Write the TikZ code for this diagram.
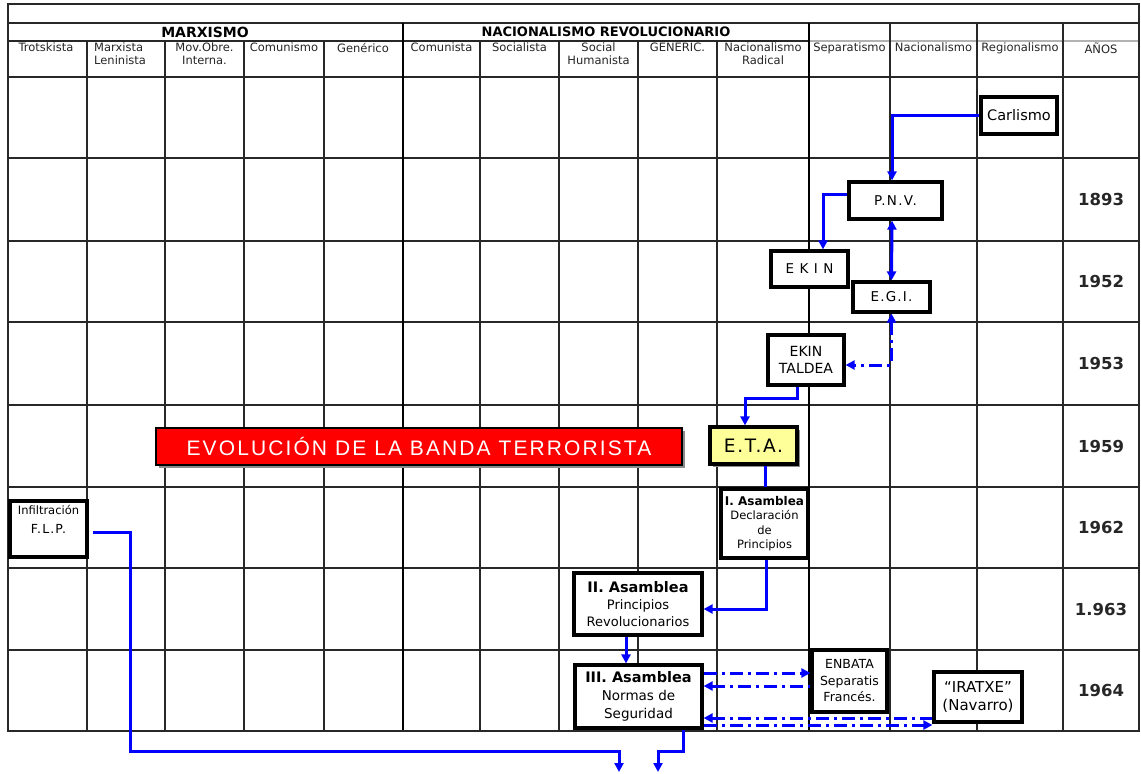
\documentclass[tikz,border=0pt]{standalone}
\usepackage{fontspec}
\setmainfont{DejaVu Sans}
\newfontfamily\bannerfont[LetterSpace=10]{Liberation Sans}
\newfontfamily\spacedfont[LetterSpace=9]{DejaVu Sans}
\usetikzlibrary{arrows.meta,shadows}
\definecolor{etay}{RGB}{255,255,153}
\definecolor{gridc}{RGB}{40,40,40}
\begin{document}
\begin{tikzpicture}[x=1pt,y=-1pt,
  >={Triangle[length=9pt,width=9pt]},
  gridline/.style={draw=gridc,line width=1.5pt},
  thickline/.style={draw=black,line width=2.6pt},
  hdr/.style={anchor=north,align=center,inner sep=0pt,text=black!85,font=\fontsize{11.5}{13}\selectfont},
  grp/.style={inner sep=0pt,font=\bfseries},
  yr/.style={inner sep=0pt,font=\bfseries\fontsize{16.5}{18}\selectfont,text=black!85},
  box/.style={draw=black,line width=3.2pt,fill=white,align=center,inner sep=0pt,font=\fontsize{13}{16}\selectfont},
  conn/.style={draw=blue,line width=3pt},
  dd/.style={conn,dash pattern=on 13pt off 5pt on 3pt off 5pt},
  shad/.style={drop shadow={shadow xshift=3pt,shadow yshift=-3pt,fill=black!45,opacity=1}}
]
\useasboundingbox (0,0) rectangle (1141,774);
\fill[white] (0,0) rectangle (1141,774);

% ---------- grid ----------
\foreach \y in {77,158,241,322,405,487,568,650}
  \draw[gridline] (8,\y) -- (1139,\y);
\draw[gridline] (8,23) -- (1139,23);
\draw[gridline] (8,41) -- (809,41);
\draw[gridline,draw=black!30] (809,41) -- (1139,41);
\foreach \x in {87,165,244,324,480,559,638,717}
  \draw[gridline] (\x,41) -- (\x,731);
\foreach \x in {890,977,1063}
  \draw[gridline] (\x,23) -- (\x,731);
\draw[thickline] (403,23) -- (403,731);
\draw[thickline] (809,23) -- (809,731);
\draw[gridline] (8,4) rectangle (1139,731);

% ---------- group headers ----------
\node[grp,font=\bfseries\fontsize{14}{16}\selectfont] (gmarx) at (205,32) {MARXISMO};
\node[grp,font=\bfseries\fontsize{13}{16}\selectfont] (gnac) at (606,32) {NACIONALISMO REVOLUCIONARIO};

% ---------- column headers ----------
\node[hdr] (c1) at (46,43) {Trotskista};
\node[hdr,anchor=north west,align=left] (c2) at (94,43) {Marxista\\Leninista};
\node[hdr] (c3) at (204.5,43) {Mov.Obre.\\Interna.};
\node[hdr] (c4) at (284,43) {Comunismo};
\node[hdr] (c5) at (363,43) {Genérico};
\node[hdr] (c6) at (441.5,43) {Comunista};
\node[hdr] (c7) at (519.5,43) {Socialista};
\node[hdr] (c8) at (598.5,43) {Social\\Humanista};
\node[hdr] (c9) at (677.5,43) {GENERIC.};
\node[hdr] (c10) at (763,43) {Nacionalismo\\Radical};
\node[hdr] (c11) at (849.5,43) {Separatismo};
\node[hdr] (c12) at (933.5,43) {Nacionalismo};
\node[hdr] (c13) at (1020,43) {Regionalismo};
\node[hdr] (c14) at (1101,43) {AÑOS};

% ---------- years ----------
\node[yr] (y1) at (1101,199.5) {1893};
\node[yr] (y2) at (1101,281.5) {1952};
\node[yr] (y3) at (1101,363.5) {1953};
\node[yr] (y4) at (1101,446) {1959};
\node[yr] (y5) at (1101,527.5) {1962};
\node[yr] (y6) at (1101,609) {1.963};
\node[yr] (y7) at (1101,690.5) {1964};

% ---------- banner ----------
\node[draw=black,line width=2pt,fill=red,shad,minimum width=526pt,minimum height=37pt,inner sep=0pt,
      text=white,font=\bannerfont\fontsize{21}{24}\selectfont] (banner) at (419,446.5)
      {EVOLUCIÓN DE LA BANDA TERRORISTA};

% ---------- boxes ----------
\node[box,minimum width=76pt,minimum height=37pt,font=\fontsize{14.5}{16}\selectfont] (carl) at (1019,115.5) {Carlismo};
\node[box,minimum width=93pt,minimum height=37pt,font=\spacedfont\fontsize{13.5}{16}\selectfont] (pnv) at (895.5,200.5) {P.N.V.};
\node[box,minimum width=77pt,minimum height=36pt,font=\spacedfont\fontsize{13.5}{16}\selectfont] (ekin) at (809.5,269) {E K I N};
\node[box,minimum width=77pt,minimum height=30pt,font=\spacedfont\fontsize{13.5}{16}\selectfont] (egi) at (891.5,297) {E.G.I.};
\node[box,minimum width=76pt,minimum height=50pt,font=\fontsize{14}{17}\selectfont] (taldea) at (806,360) {EKIN\\TALDEA};
\node[box,fill=etay,shad,minimum width=87pt,minimum height=37pt,font=\spacedfont\fontsize{18.5}{22}\selectfont] (eta) at (753.5,445.5) {E.T.A.};
\node[box,minimum width=87pt,minimum height=69pt,font=\fontsize{11.5}{14.5}\selectfont] (asm1) at (764.5,523.5)
  {{\bfseries\fontsize{12}{14.5}\selectfont I. Asamblea}\\Declaración\\de\\Principios};
\node[box,minimum width=128pt,minimum height=62pt,font=\fontsize{13}{17}\selectfont] (asm2) at (638,604)
  {{\bfseries\fontsize{14.5}{17}\selectfont II. Asamblea}\\Principios\\Revolucionarios};
\node[box,minimum width=127pt,minimum height=63pt,font=\fontsize{13.5}{18}\selectfont] (asm3) at (638.5,696.5)
  {{\bfseries\fontsize{14.5}{18}\selectfont III. Asamblea}\\Normas de\\Seguridad};
\node[box,minimum width=75pt,minimum height=62pt,font=\fontsize{12.5}{16.5}\selectfont] (enbata) at (849.5,681)
  {ENBATA\\Separatis\\Francés.};
\node[box,minimum width=88pt,minimum height=50pt,font=\fontsize{15}{18}\selectfont] (iratxe) at (978,697)
  {“IRATXE”\\(Navarro)};
\node[box,minimum width=77pt,minimum height=56pt] (flp) at (48.5,529) {};
\node[anchor=north,align=center,inner sep=0pt,font=\fontsize{11.5}{19}\selectfont] (flptext) at ([yshift=-6pt]flp.north)
  {Infiltración\\{\spacedfont\fontsize{12.5}{19}\selectfont F.L.P.}};

% ---------- connectors ----------
\coordinate (flpend) at (619,772);
\coordinate (asmend) at (658,772);

\draw[conn,->] (carl.west) -| ([xshift=-3.5pt]pnv.north);
\draw[conn,->] ([yshift=6.5pt]pnv.west) -| ([xshift=13.5pt]ekin.north);
\draw[conn,<->] ([xshift=-3.5pt]pnv.south) -- (egi.north);
\draw[dd,<->] (egi.south) |- ([yshift=-5pt]taldea.east);
\draw[conn,->] ([xshift=-9pt]taldea.south) -- ++(0,12) -| ([xshift=-8.5pt]eta.north);
\draw[conn] ([xshift=11.5pt]eta.south) -- ([xshift=0.5pt]asm1.north);
\draw[conn,->] ([xshift=1.5pt]asm1.south) |- ([yshift=-5pt]asm2.east);
\draw[conn,->] ([xshift=-12pt]asm2.south) -- ([xshift=-12.5pt]asm3.north);
\draw[dd,->] ([yshift=23.5pt]asm3.east) -- ([yshift=23.5pt]asm3.east -| enbata.west);
\draw[dd,<-] ([yshift=10.5pt]asm3.east) -- ([yshift=10.5pt]asm3.east -| enbata.west);
\draw[dd,<-] ([yshift=-21.5pt]asm3.east) -- ([yshift=-21.5pt]asm3.east -| iratxe.west);
\draw[dd,->] ([yshift=-28.5pt]asm3.east) -- ([yshift=-28.5pt]asm3.east -| iratxe.west);
\draw[conn,->] ([xshift=4pt,yshift=-3pt]flp.east) -- ++(38,0) -- ++(0,219) -| (flpend);
\draw[conn,->] ([xshift=44.5pt]asm3.south) -- ++(0,22) -| (asmend);
\end{tikzpicture}
\end{document}
